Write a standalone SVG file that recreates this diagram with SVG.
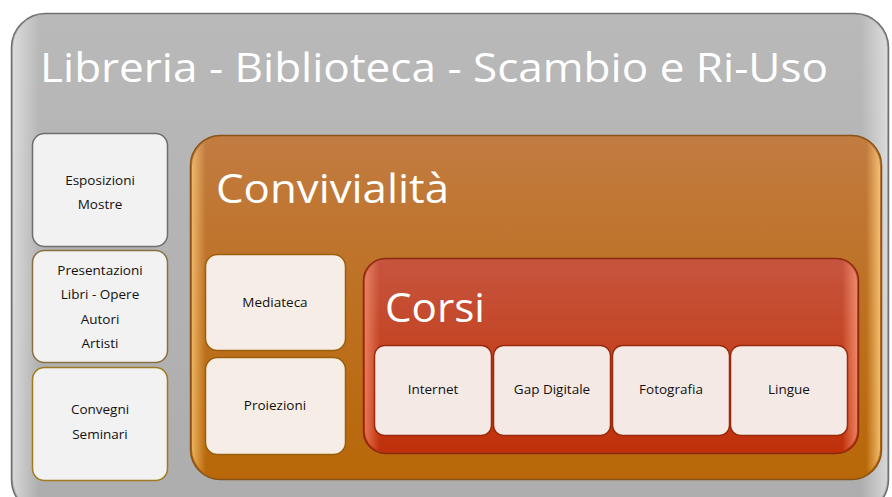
<svg xmlns="http://www.w3.org/2000/svg" width="892" height="497" viewBox="0 0 892 497">
<defs>
<linearGradient id="gGray" x1="0" y1="0" x2="0" y2="1">
<stop offset="0" stop-color="#b9b9b9"/><stop offset="1" stop-color="#adadad"/>
</linearGradient>
<linearGradient id="gOrange" x1="0" y1="0" x2="0" y2="1">
<stop offset="0" stop-color="#c27c42"/><stop offset="0.5" stop-color="#bd7020"/><stop offset="1" stop-color="#b86808"/>
</linearGradient>
<linearGradient id="gRed" x1="0" y1="0" x2="0" y2="1">
<stop offset="0" stop-color="#c6553e"/><stop offset="0.5" stop-color="#c44322"/><stop offset="1" stop-color="#bf300a"/>
</linearGradient>
<linearGradient id="gEdgeGray" x1="0" y1="0" x2="1" y2="0">
<stop offset="0" stop-color="#ffffff" stop-opacity="0.5"/><stop offset="0.03" stop-color="#ffffff" stop-opacity="0"/><stop offset="0.97" stop-color="#ffffff" stop-opacity="0"/><stop offset="1" stop-color="#ffffff" stop-opacity="0.5"/>
</linearGradient>
<linearGradient id="gEdgeWarm" x1="0" y1="0" x2="1" y2="0">
<stop offset="0" stop-color="#ffd080" stop-opacity="0.7"/><stop offset="0.02" stop-color="#ffd080" stop-opacity="0"/><stop offset="0.98" stop-color="#ffd080" stop-opacity="0"/><stop offset="1" stop-color="#ffd080" stop-opacity="0.8"/>
</linearGradient>
<linearGradient id="gEdgeRed" x1="0" y1="0" x2="1" y2="0">
<stop offset="0" stop-color="#ffa080" stop-opacity="0.6"/><stop offset="0.03" stop-color="#ffa080" stop-opacity="0"/><stop offset="0.97" stop-color="#ffa080" stop-opacity="0"/><stop offset="1" stop-color="#ffa080" stop-opacity="0.7"/>
</linearGradient>
</defs>
<style>
.title{font-family:"Open Sans","Noto Sans",sans-serif;fill:#ffffff;font-size:41px}
.lbl{font-family:"Open Sans","Noto Sans",sans-serif;fill:#111111;font-size:13.5px;text-anchor:middle}
.side{fill:#f2f2f2;stroke-width:1.5}
.med{fill:#f6eee6;stroke:#9a5e0c;stroke-width:1.5}
.crs{fill:#f5e9e5;stroke:#9a2a0c;stroke-width:1.5}
</style>
<rect width="892" height="497" fill="#ffffff"/>
<g id="outer">
<rect x="11.5" y="13.5" width="877" height="500" rx="34" fill="url(#gGray)" stroke="#6f6f6f" stroke-width="1.5"/>
<rect x="13" y="15" width="874" height="497" rx="33" fill="url(#gEdgeGray)"/>
<text class="title" x="40" y="82" textLength="788" lengthAdjust="spacingAndGlyphs">Libreria - Biblioteca - Scambio e Ri-Uso</text>
</g>
<g id="esposizioni">
<rect class="side" x="32.5" y="133.5" width="135" height="113" rx="12" stroke="#6e6e6e"/>
<text class="lbl" x="100" y="185">Esposizioni</text>
<text class="lbl" x="100" y="209">Mostre</text>
</g>
<g id="presentazioni">
<rect class="side" x="32.5" y="250.5" width="135" height="112" rx="12" stroke="#8a7040"/>
<text class="lbl" x="100" y="275">Presentazioni</text>
<text class="lbl" x="100" y="299">Libri - Opere</text>
<text class="lbl" x="100" y="324">Autori</text>
<text class="lbl" x="100" y="348">Artisti</text>
</g>
<g id="convegni">
<rect class="side" x="32.5" y="367.5" width="135" height="113" rx="12" stroke="#a07a20"/>
<text class="lbl" x="100" y="414">Convegni</text>
<text class="lbl" x="100" y="439">Seminari</text>
</g>
<g id="convivialita">
<rect x="190.5" y="135.5" width="691" height="344" rx="30" fill="url(#gOrange)" stroke="#8a5214" stroke-width="1.5"/>
<rect x="192" y="137" width="688" height="341" rx="29" fill="url(#gEdgeWarm)"/>
<text class="title" x="216" y="203" textLength="233" lengthAdjust="spacingAndGlyphs">Convivialità</text>
</g>
<g id="mediateca">
<rect class="med" x="205.5" y="254.5" width="140" height="96" rx="12"/>
<text class="lbl" x="275" y="307">Mediateca</text>
</g>
<g id="proiezioni">
<rect class="med" x="205.5" y="357.5" width="140" height="97" rx="12"/>
<text class="lbl" x="275" y="410">Proiezioni</text>
</g>
<g id="corsi">
<rect x="363.5" y="258.5" width="495" height="195" rx="22" fill="url(#gRed)" stroke="#8a2a10" stroke-width="1.5"/>
<rect x="365" y="260" width="492" height="192" rx="21" fill="url(#gEdgeRed)"/>
<text class="title" x="385" y="322" textLength="100" lengthAdjust="spacingAndGlyphs">Corsi</text>
</g>
<g id="internet">
<rect class="crs" x="374.5" y="345.5" width="117" height="90" rx="10"/>
<text class="lbl" x="433" y="394">Internet</text>
</g>
<g id="gap">
<rect class="crs" x="493.5" y="345.5" width="117" height="90" rx="10"/>
<text class="lbl" x="552" y="394">Gap Digitale</text>
</g>
<g id="fotografia">
<rect class="crs" x="612.5" y="345.5" width="117" height="90" rx="10"/>
<text class="lbl" x="671" y="394">Fotografia</text>
</g>
<g id="lingue">
<rect class="crs" x="730.5" y="345.5" width="117" height="90" rx="10"/>
<text class="lbl" x="789" y="394">Lingue</text>
</g>
<g id="connectors"/>
</svg>
